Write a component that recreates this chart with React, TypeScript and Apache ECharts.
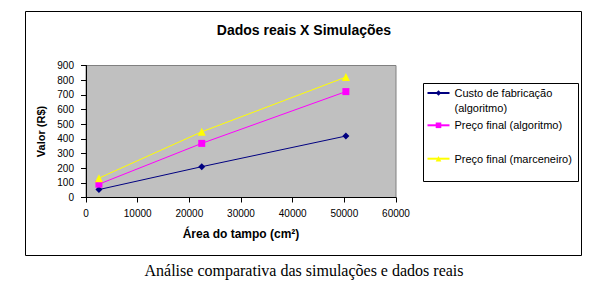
import React, { useEffect, useRef } from "react";
import * as echarts from "echarts";

const titleText = "Dados reais X Simulações";
const captionText = "Análise comparativa das simulações e dados reais";
const xAxisName = "Área do tampo (cm²)";
const yAxisName = "Valor (R$)";

const areaCm2 = [2500, 22400, 50300];
const custoAlgoritmo = [54, 210, 419];
const precoAlgoritmo = [91, 369, 722];
const precoMarceneiro = [132, 448, 821];

const seriesNames = [
  "Custo de fabricação (algoritmo)",
  "Preço final (algoritmo)",
  "Preço final (marceneiro)",
];
const seriesColors = ["#000080", "#FF00FF", "#FFFF00"];
const seriesSymbols = ["diamond", "rect", "triangle"];
const seriesSymbolSizes = [7, 7, 8];
const seriesValues = [custoAlgoritmo, precoAlgoritmo, precoMarceneiro];

const SANS = '"Liberation Sans", Arial, sans-serif';
const SERIF = '"Liberation Serif", "Times New Roman", serif';

export default function App() {
  const ref = useRef<HTMLDivElement>(null);

  useEffect(() => {
    if (!ref.current) return;
    const chart = echarts.init(ref.current, null, { renderer: "svg" });

    const legendTops = [70.5, 117.8, 151.2];
    const legends = seriesNames.map((name, i) => ({
      show: true,
      left: 426.5,
      top: legendTops[i],
      padding: 0,
      orient: "vertical",
      itemWidth: 22,
      itemHeight: 7,
      selectedMode: false,
      data: [name],
      formatter: i === 0 ? () => "\nCusto de fabricação\n(algoritmo)" : undefined,
      textStyle: {
        fontFamily: SANS,
        fontSize: 11,
        color: "#000",
        lineHeight: 15,
      },
    }));

    chart.setOption({
      animation: false,
      backgroundColor: "#fff",
      legend: legends,
      grid: {
        left: 86,
        top: 65.5,
        width: 310,
        height: 132,
        show: true,
        backgroundColor: "#C0C0C0",
        borderColor: "#808080",
        borderWidth: 1,
        containLabel: false,
      },
      xAxis: {
        type: "value",
        min: 0,
        max: 60000,
        interval: 10000,
        name: xAxisName,
        nameLocation: "middle",
        nameGap: 30,
        nameTextStyle: {
          fontFamily: SANS,
          fontSize: 12,
          fontWeight: "bold",
          color: "#000",
        },
        axisLine: { show: true, lineStyle: { color: "#000", width: 1 } },
        axisTick: { show: true, length: 5, lineStyle: { color: "#000" } },
        axisLabel: {
          margin: 11,
          fontFamily: SANS,
          fontSize: 10,
          color: "#000",
          formatter: (v: number) => String(v),
        },
        splitLine: { show: false },
      },
      yAxis: {
        type: "value",
        min: 0,
        max: 900,
        interval: 100,
        name: yAxisName,
        nameLocation: "middle",
        nameGap: 31,
        nameTextStyle: {
          fontFamily: SANS,
          fontSize: 11,
          fontWeight: "bold",
          color: "#000",
        },
        axisLine: { show: true, lineStyle: { color: "#000", width: 1 } },
        axisTick: { show: true, length: 5, lineStyle: { color: "#000" } },
        axisLabel: {
          margin: 12,
          fontFamily: SANS,
          fontSize: 10,
          color: "#000",
          formatter: (v: number) => String(v),
        },
        splitLine: { show: false },
      },
      series: seriesNames.map((name, i) => ({
        name,
        type: "line",
        data: areaCm2.map((x, j) => [x, seriesValues[i][j]]),
        symbol: seriesSymbols[i],
        symbolSize: seriesSymbolSizes[i],
        showAllSymbol: true,
        lineStyle: { color: seriesColors[i], width: 1 },
        itemStyle: { color: seriesColors[i] },
        emphasis: { disabled: true },
      })),
      graphic: [
        {
          type: "rect",
          z: 100,
          shape: { x: 25.5, y: 11.5, width: 556, height: 244 },
          style: { fill: "none", stroke: "#000", lineWidth: 1 },
        },
        {
          type: "rect",
          z: 100,
          shape: { x: 423.5, y: 83.5, width: 155, height: 98 },
          style: { fill: "none", stroke: "#000", lineWidth: 1 },
        },
        {
          type: "text",
          x: 304,
          y: 30,
          style: {
            text: titleText,
            fill: "#000",
            font: `bold 14px ${SANS}`,
            textAlign: "center",
            textVerticalAlign: "middle",
          },
        },
        {
          type: "text",
          x: 304,
          y: 270,
          style: {
            text: captionText,
            fill: "#000",
            font: `16px ${SERIF}`,
            textAlign: "center",
            textVerticalAlign: "middle",
          },
        },
      ],
    });

    return () => {
      chart.dispose();
    };
  }, []);

  return (
    <div
      ref={ref}
      style={{ position: "fixed", left: 0, top: 0, width: 607, height: 283 }}
    />
  );
}
